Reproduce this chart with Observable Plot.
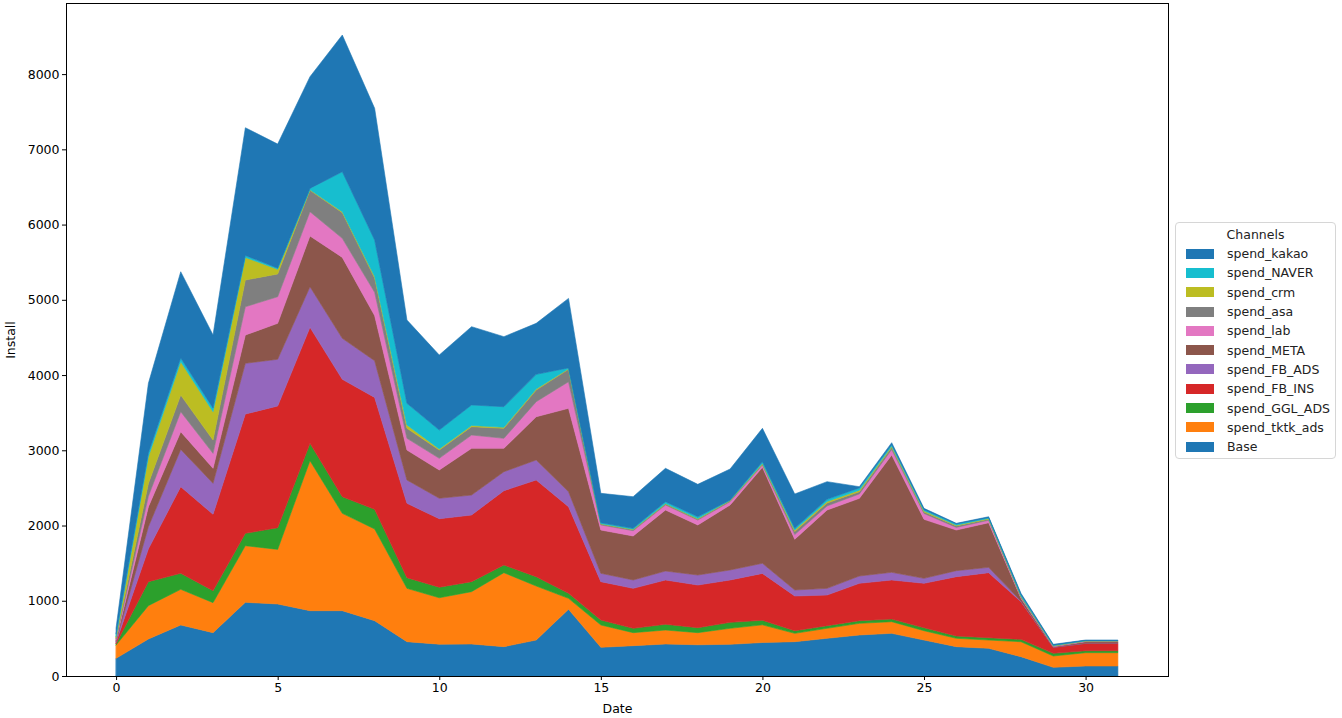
<!DOCTYPE html>
<html><head><meta charset="utf-8">
<script src="https://cdn.jsdelivr.net/npm/d3@7"></script>
<script src="https://cdn.jsdelivr.net/npm/@observablehq/plot@0.6"></script>
<style>
body{margin:0;background:#fff;font-family:"DejaVu Sans",sans-serif;}
#wrap{position:relative;width:1342px;height:718px;}
#legend{position:absolute;left:1175px;top:222px;width:161px;height:237px;border:1px solid #d6d6d6;border-radius:4px;box-sizing:border-box;font-size:12.5px;color:#222;background:#fff;}
#legend .title{text-align:center;margin-top:3px;height:18px;line-height:18px;}
#legend .row{display:flex;align-items:center;height:19.3px;}
#legend .sw{width:28px;height:10px;margin-left:10px;margin-right:13px;}
</style></head>
<body><div id="wrap"><div id="chart"></div><div id="legend"></div></div>
<script>
const dates = [0,1,2,3,4,5,6,7,8,9,10,11,12,13,14,15,16,17,18,19,20,21,22,23,24,25,26,27,28,29,30,31];
const base      = [235,492,678,576,979,957,868,868,735,456,423,425,390,478,886,381,403,425,415,421,445,456,501,545,567,478,390,368,257,115,133,133];
const spendTkAds= [177,443,474,399,753,726,1994,1294,1219,709,617,696,983,718,146,297,173,186,161,213,235,111,133,155,155,124,111,110,199,151,177,177];
const spendGgAds= [18,319,213,159,164,288,230,221,261,142,140,133,102,124,67,66,58,76,66,79,60,35,35,35,35,40,31,31,31,35,26,26];
const spendFbIns= [20,436,1151,1015,1586,1617,1542,1560,1488,988,910,886,988,1285,1151,510,531,589,567,563,624,461,407,497,519,590,788,864,500,80,98,98];
const spendFbAds= [15,295,496,412,674,622,540,545,487,310,272,265,252,266,200,111,111,119,133,133,134,80,89,97,102,66,80,71,8,2,2,2];
const spendMeta = [15,265,235,199,376,477,674,1076,600,398,376,621,311,575,1108,575,585,811,665,864,1275,674,1041,1032,1559,784,540,593,37,7,20,20];
const spendLab  = [15,140,266,199,376,354,323,253,310,156,155,177,133,200,353,67,70,67,66,44,31,63,54,59,73,78,35,33,13,5,6,6];
const spendAsa  = [15,170,221,177,355,302,284,341,190,133,110,111,133,155,165,13,14,12,12,13,11,40,40,30,30,20,20,15,10,5,4,4];
const spendCrm  = [15,355,443,377,301,62,7,13,20,44,15,16,13,14,9,5,5,7,7,6,10,20,20,20,15,15,10,10,7,4,2,2];
const spendNaver= [35,50,49,47,26,15,19,531,484,288,251,272,274,194,10,12,13,25,25,3,23,23,28,30,20,15,15,10,18,6,4,4];
const spendKakao= [80,925,1147,972,1697,1650,1484,1817,1751,1107,997,1041,931,678,924,391,420,443,430,412,444,456,235,16,26,18,9,12,19,11,6,6];

const seriesNames = ["Base","spend_tktk_ads","spend_GGL_ADS","spend_FB_INS","spend_FB_ADS","spend_META","spend_lab","spend_asa","spend_crm","spend_NAVER","spend_kakao"];
const seriesValues = [base,spendTkAds,spendGgAds,spendFbIns,spendFbAds,spendMeta,spendLab,spendAsa,spendCrm,spendNaver,spendKakao];
const colors = ["#1f77b4","#ff7f0e","#2ca02c","#d62728","#9467bd","#8c564b","#e377c2","#7f7f7f","#bcbd22","#17becf","#1f77b4"];
const xTicks = [0,5,10,15,20,25,30];
const yTicks = [0,1000,2000,3000,4000,5000,6000,7000,8000];

const rows = [];
seriesNames.forEach((s, k) => dates.forEach((d, i) => rows.push({date: d, series: s, value: seriesValues[k][i]})));

const chart = Plot.plot({
  width: 1342, height: 718,
  marginLeft: 66, marginRight: 174, marginTop: 3, marginBottom: 42,
  style: {fontFamily: "DejaVu Sans, sans-serif", fontSize: "12.5px", background: "white", color: "#000"},
  x: {domain: [-1.55, 32.55]},
  y: {domain: [0, 8945]},
  color: {domain: seriesNames, range: colors},
  marks: [
    Plot.areaY(rows, {x: "date", y: "value", z: "series", fill: "series", stroke: "series", strokeWidth: 0.6, order: seriesNames}),
    Plot.axisX({ticks: xTicks, tickSize: 4, tickPadding: 3, label: "Date", labelAnchor: "center", labelArrow: "none", labelOffset: 36}),
    Plot.axisY({ticks: yTicks, tickSize: 4, tickPadding: 3, tickFormat: d => String(d), label: "Install", labelAnchor: "center", labelArrow: "none", labelOffset: 60}),
    Plot.frame({stroke: "#000", strokeWidth: 1})
  ]
});
document.getElementById("chart").appendChild(chart);

const legend = document.getElementById("legend");
legend.innerHTML = '<div class="title">Channels</div>' +
  seriesNames.map((s, i) => ({s, c: colors[i]})).reverse()
    .map(o => `<div class="row"><div class="sw" style="background:${o.c}"></div><span>${o.s}</span></div>`).join("");
</script>
</body></html>
